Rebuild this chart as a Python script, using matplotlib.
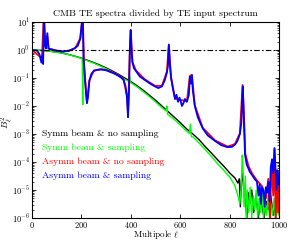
import numpy as np
import matplotlib
matplotlib.use("Agg")
import matplotlib.pyplot as plt
from matplotlib.ticker import LogLocator, FixedLocator, NullFormatter

plt.rcParams.update({
    "font.family": "serif",
    "font.serif": ["cmr10", "DejaVu Serif"],
    "mathtext.fontset": "cm",
    "axes.formatter.use_mathtext": True,
    "font.size": 7,
    "xtick.direction": "in",
    "ytick.direction": "in",
    "xtick.top": True,
    "ytick.right": True,
})

# ---------------------------------------------------------------------------
# data (log10 of B_l^2)
# ---------------------------------------------------------------------------
ell_symm = [0, 25, 50, 75, 100, 125, 150, 175, 200, 225, 250, 275, 300, 325,
            350, 375, 400, 425, 450, 475, 500, 525, 550, 575, 600, 625, 650,
            675, 700, 725, 750, 775, 800, 820, 832, 838, 842, 846, 850, 855,
            862, 868, 874, 880, 888, 896, 905, 915, 922, 930, 938, 946, 955,
            965, 975, 985, 995, 1000]
log_symm = [0.0, -0.01, -0.02, -0.045, -0.075, -0.115, -0.165, -0.225, -0.29,
            -0.37, -0.45, -0.54, -0.64, -0.75, -0.87, -1.0, -1.13, -1.28,
            -1.44, -1.62, -1.8, -2.0, -2.2, -2.4, -2.6, -2.82, -3.0, -3.2,
            -3.45, -3.68, -3.92, -4.15, -4.4, -4.57, -4.75, -4.6, -5.6, -4.7,
            -4.4, -4.9, -5.3, -6.0, -5.1, -5.5, -5.0, -5.8, -5.2, -6.0, -5.3,
            -5.6, -6.0, -5.4, -5.7, -5.2, -5.9, -5.5, -5.8, -5.6]

ell_symm_s = [0, 25, 50, 75, 100, 125, 150, 175, 200, 203, 205, 207, 225,
              250, 275, 300, 325, 350, 375, 390, 394, 398, 425, 450, 475, 500,
              525, 542, 545, 548, 575, 600, 625, 636, 640, 644, 650, 675, 700,
              725, 750, 775, 800, 820, 832, 840, 845, 850, 853, 857, 862, 866,
              870, 876, 882, 888, 894, 900, 906, 912, 918, 924, 930, 936, 942,
              948, 954, 960, 966, 972, 978, 984, 990, 996, 1000]
log_symm_s = [0.0, -0.01, -0.02, -0.05, -0.08, -0.12, -0.17, -0.23, -0.3,
              -0.31, -1.95, -0.32, -0.39, -0.47, -0.57, -0.67, -0.79, -0.91,
              -1.05, -1.12, -0.9, -1.16, -1.32, -1.49, -1.67, -1.86, -2.06,
              -2.18, -2.0, -2.3, -2.48, -2.69, -2.9, -2.98, -2.65, -3.1, -3.1,
              -3.32, -3.56, -3.8, -4.06, -4.3, -4.55, -4.85, -5.2, -5.5, -4.9,
              -3.75, -4.3, -5.6, -4.5, -6.0, -5.0, -5.8, -4.9, -6.0, -5.2,
              -5.7, -5.0, -6.0, -5.3, -5.8, -5.1, -6.0, -5.4, -5.9, -5.2, -6.0,
              -5.5, -5.9, -5.3, -6.0, -5.6, -5.9, -5.7]

ell_asym = [0, 40, 48, 55, 62, 68, 100, 125, 150, 175, 195, 205, 210, 218,
            222, 232, 250, 280, 315, 345, 370, 384, 388, 396, 399, 406, 420,
            456, 497, 525, 545, 553, 562, 578, 600, 626, 638, 646, 658, 690,
            740, 790, 820, 840, 851, 856, 862, 875, 890, 910, 930, 945, 955,
            962, 968, 975, 980, 985, 990, 995, 1000]
log_asym = [0.0, -0.3, 1.3, 0.1, 0.5, 0.05, -0.02, -0.05, -0.02, 0.07, 0.42,
            1.3, -0.4, -1.45, -1.85, -1.08, -0.73, -0.68, -0.76, -0.88, -1.05,
            -1.65, -2.3, 0.22, 0.72, -0.43, -0.73, -1.05, -1.28, -1.28, -0.78,
            0.2, -0.98, -1.73, -1.78, -1.83, -0.93, -0.88, -1.98, -2.78,
            -3.23, -3.45, -3.36, -2.98, -1.25, -2.15, -3.7, -4.15, -4.42,
            -4.67, -4.87, -5.3, -4.6, -6.0, -4.1, -5.2, -3.55, -6.0, -4.3,
            -5.8, -4.45]

ell_asym_s = [0, 20, 30, 38, 42, 45, 48, 52, 56, 62, 66, 75, 100, 125, 150,
              170, 185, 195, 201, 205, 208, 212, 218, 222, 226, 232, 240, 250,
              262, 280, 300, 315, 330, 345, 360, 370, 378, 384, 388, 392, 396,
              399, 402, 406, 412, 420, 436, 456, 477, 497, 510, 525, 537, 545,
              549, 553, 557, 562, 570, 578, 584, 590, 596, 600, 606, 612, 618,
              626, 634, 638, 642, 646, 650, 658, 670, 690, 710, 740, 765, 790,
              808, 820, 830, 840, 846, 850, 852, 855, 861, 868, 873, 880, 889,
              899, 909, 915, 920, 925, 929, 935, 940, 945, 950, 955, 960, 965,
              970, 975, 980, 984, 988, 992, 996, 1000]
log_asym_s = [0.0, -0.02, -0.15, -0.45, -0.2, -0.5, 1.3, 0.2, 0.05, 0.6,
              0.05, 0.03, -0.03, -0.06, -0.03, 0.05, 0.15, 0.4, 0.9, 1.3,
              -0.3, -0.8, -1.5, -1.9, -1.7, -1.1, -0.85, -0.75, -0.71, -0.7,
              -0.72, -0.78, -0.83, -0.9, -0.98, -1.07, -1.3, -1.7, -2.4, -1.5,
              0.2, 0.7, 0.0, -0.45, -0.65, -0.75, -0.95, -1.07, -1.2, -1.3,
              -1.36, -1.3, -1.07, -0.8, -0.6, 0.18, -0.5, -1.0, -1.4, -1.75,
              -1.6, -1.85, -1.7, -1.8, -2.0, -1.9, -1.75, -1.85, -1.6, -0.95,
              -1.2, -0.9, -1.45, -2.0, -2.4, -2.8, -3.05, -3.25, -3.4, -3.47,
              -3.46, -3.38, -3.25, -3.0, -2.6, -1.6, -1.3, -2.2, -3.75, -4.1,
              -4.2, -4.35, -4.46, -4.6, -4.7, -5.2, -4.8, -5.5, -4.9, -5.0,
              -5.6, -4.9, -5.1, -4.7, -5.4, -4.2, -3.9, -4.4, -3.5, -4.2, -5.0,
              -4.3, -4.8, -4.5]

legend_labels = ["Symm beam & no sampling", "Symm beam & sampling",
                 "Asymm beam & no sampling", "Asymm beam & sampling"]
legend_colors = ["black", "#00ff00", "#ff0000", "#0000ff"]
line_widths = [1.0, 1.0, 1.3, 1.3]

# ---------------------------------------------------------------------------
fig = plt.figure(figsize=(2.92, 2.40), dpi=100)
ax = fig.add_axes([0.1096, 0.0917, 0.8474, 0.8166])

series = [(ell_symm, log_symm), (ell_symm_s, log_symm_s),
          (ell_asym, log_asym), (ell_asym_s, log_asym_s)]
for (ell, lv), col, lw in zip(series, legend_colors, line_widths):
    ax.plot(ell, 10.0 ** np.asarray(lv), color=col, lw=lw)

ax.axhline(1.0, color="black", lw=0.8, ls=(0, (5, 2, 1.5, 2)))

ax.set_yscale("log")
ax.set_xlim(0, 1000)
ax.set_ylim(1e-6, 1e1)
ax.xaxis.set_major_locator(FixedLocator([0, 200, 400, 600, 800, 1000]))
ax.yaxis.set_major_locator(LogLocator(base=10, numticks=10))
ax.yaxis.set_minor_locator(LogLocator(base=10, subs=np.arange(2, 10), numticks=10))
ax.yaxis.set_minor_formatter(NullFormatter())
ax.tick_params(which="major", length=3, width=0.6, pad=1.5, labelsize=6)
ax.tick_params(which="minor", length=1.5, width=0.5)
for sp in ax.spines.values():
    sp.set_linewidth(0.8)

ax.set_title("CMB TE spectra divided by TE input spectrum", fontsize=7, pad=4)
# axis labels placed as figure text so they stay inside the small canvas
fig.text(0.535, 1 - 234.5 / 240, r"Multipole $\ell$", fontsize=6.5,
         ha="center", va="center")
fig.text(7 / 292, 1 - 122 / 240, r"$B_\ell^2$", fontsize=7,
         ha="center", va="center", rotation=90)

# in-axes legend text
for i, (lbl, col) in enumerate(zip(legend_labels, legend_colors)):
    ax.text(40, 10 ** (-3.0 - 0.5 * i), lbl, color=col, fontsize=7,
            va="center", ha="left")

fig.savefig("out.png", dpi=100)
